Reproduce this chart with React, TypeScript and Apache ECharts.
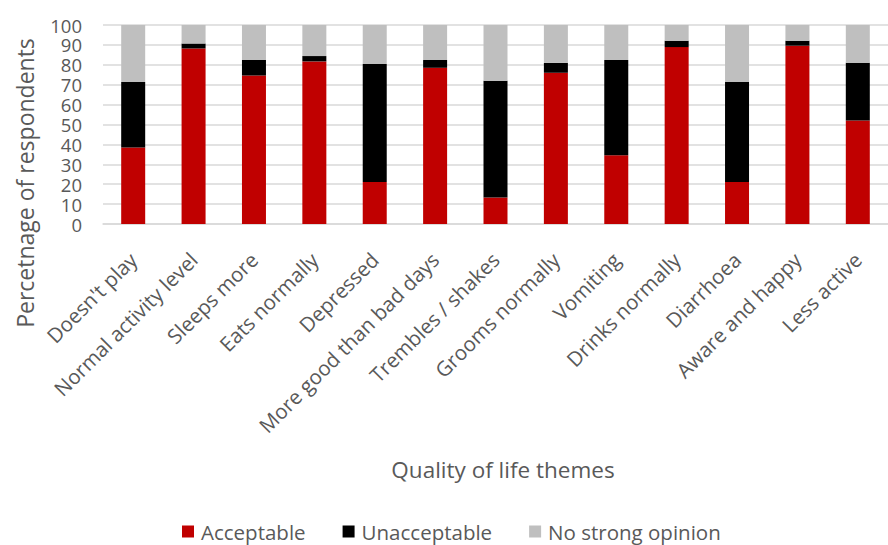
import React, { useEffect, useRef } from "react";
import * as echarts from "echarts";

const categories = [
  "Doesn't play",
  "Normal activity level",
  "Sleeps more",
  "Eats normally",
  "Depressed",
  "More good than bad days",
  "Trembles / shakes",
  "Grooms normally",
  "Vomiting",
  "Drinks normally",
  "Diarrhoea",
  "Aware and happy",
  "Less active",
];

const acceptable = [38.4, 88.2, 74.6, 81.7, 21.1, 78.5, 13.3, 76.0, 34.6, 88.9, 21.1, 89.6, 52.0];
const unacceptable = [32.9, 2.5, 7.8, 2.7, 59.3, 3.9, 58.7, 5.0, 47.8, 3.2, 50.2, 2.5, 29.0];
const noOpinion = [28.7, 9.3, 17.6, 15.6, 19.6, 17.6, 28.0, 19.0, 17.6, 7.9, 28.7, 7.9, 19.0];

const seriesNames = ["Acceptable", "Unacceptable", "No strong opinion"];
const yTicks = { min: 0, max: 100, interval: 10 };

const TEXT = "#595959";
const FONT = "Open Sans";

export default function App() {
  const ref = useRef<HTMLDivElement>(null);
  useEffect(() => {
    if (!ref.current) return;
    const chart = echarts.init(ref.current, null, { renderer: "svg" });
    const colors = ["#C00000", "#000000", "#BFBFBF"];
    const data = [acceptable, unacceptable, noOpinion];
    chart.setOption({
      animation: false,
      backgroundColor: "#ffffff",
      grid: { left: 103, top: 25, width: 798, height: 199, containLabel: false },
      legend: {
        left: 182,
        top: 521,
        padding: 0,
        itemWidth: 12,
        itemHeight: 12,
        itemGap: 37,
        icon: "rect",
        data: seriesNames,
        textStyle: {
          fontFamily: FONT,
          fontSize: 20.5,
          lineHeight: 20,
          color: TEXT,
          padding: [0, 0, 0, 2],
        },
      },
      xAxis: {
        type: "category",
        data: categories,
        axisLine: { lineStyle: { color: "#D9D9D9", width: 1.5 } },
        axisTick: { show: false },
        axisLabel: {
          interval: 0,
          rotate: 45,
          margin: 32,
          fontFamily: FONT,
          fontSize: 20.5,
          color: TEXT,
        },
      },
      yAxis: {
        type: "value",
        min: yTicks.min,
        max: yTicks.max,
        interval: yTicks.interval,
        axisLine: { show: false },
        axisTick: { show: false },
        splitLine: { lineStyle: { color: "#D9D9D9", width: 1.5 } },
        axisLabel: {
          fontFamily: FONT,
          fontSize: 18.5,
          lineHeight: 18,
          color: TEXT,
          margin: 21,
          showMinLabel: true,
          showMaxLabel: true,
          hideOverlap: false,
        },
      },
      graphic: [
        {
          type: "text",
          x: 25,
          y: 183,
          rotation: Math.PI / 2,
          style: {
            text: "Percetnage of respondents",
            fontFamily: FONT,
            fontSize: 23,
            fill: TEXT,
            align: "center",
            verticalAlign: "middle",
          },
        },
        {
          type: "text",
          x: 503,
          y: 469,
          style: {
            text: "Quality of life themes",
            fontFamily: FONT,
            fontSize: 22.5,
            fill: TEXT,
            align: "center",
            verticalAlign: "middle",
          },
        },
      ],
      series: seriesNames.map((name, i) => ({
        name,
        type: "bar",
        stack: "total",
        barWidth: 24,
        itemStyle: { color: colors[i] },
        data: data[i],
      })),
    });
    return () => chart.dispose();
  }, []);
  return (
    <div
      ref={ref}
      style={{ position: "absolute", left: 0, top: 0, width: 888, height: 545 }}
    />
  );
}
